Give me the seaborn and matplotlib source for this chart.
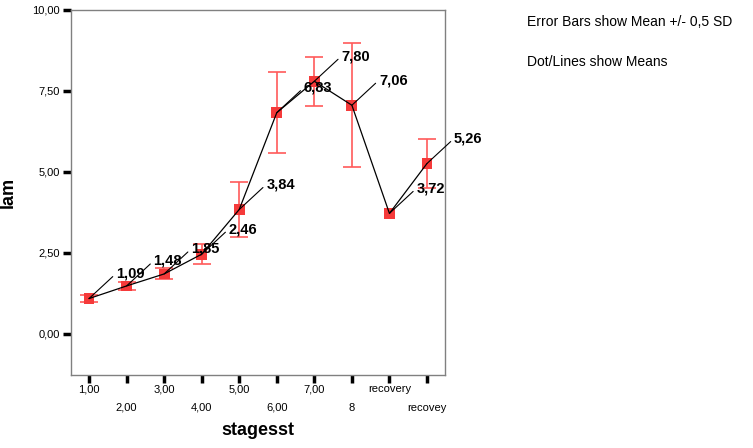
import matplotlib
matplotlib.use("Agg")
import matplotlib.pyplot as plt
import seaborn as sns
import pandas as pd
import numpy as np
from matplotlib.ticker import FuncFormatter, FixedLocator

categories = ["1,00", "2,00", "3,00", "4,00", "5,00", "6,00", "7,00", "8", "recovery", "recovey"]
means = [1.09, 1.48, 1.85, 2.46, 3.84, 6.83, 7.80, 7.06, 3.72, 5.26]
half_sd = [0.11, 0.12, 0.17, 0.30, 0.84, 1.26, 0.76, 1.92, np.nan, 0.76]
mean_labels = ["1,09", "1,48", "1,85", "2,46", "3,84", "6,83", "7,80", "7,06", "3,72", "5,26"]

sns.set_style("white")
plt.rcParams["font.family"] = ["Liberation Sans", "DejaVu Sans"]
plt.rcParams["text.color"] = "black"
plt.rcParams["axes.labelcolor"] = "black"
plt.rcParams["xtick.color"] = "black"
plt.rcParams["ytick.color"] = "black"

df = pd.DataFrame({"pos": np.arange(len(categories)), "mean": means, "err": half_sd})

fig = plt.figure(figsize=(7.53, 4.48), dpi=100)
ax = fig.add_axes([71 / 753, 1 - 375 / 448, (445 - 71) / 753, (375 - 10) / 448])

ok = df["err"].notna()
ax.errorbar(df.loc[ok, "pos"], df.loc[ok, "mean"], yerr=df.loc[ok, "err"], fmt="none",
            ecolor="#ff5a5a", elinewidth=1.2, capsize=6.5, capthick=1.2, zorder=2)
sns.scatterplot(data=df, x="pos", y="mean", marker="s", s=60, color="#f53a3a",
                edgecolor="none", ax=ax, zorder=3)
sns.lineplot(data=df, x="pos", y="mean", color="black", linewidth=0.9, ax=ax,
             zorder=4, estimator=None)

for i, row in df.iterrows():
    ax.annotate(mean_labels[i], xy=(row["pos"], row["mean"]), xytext=(27, 25),
                textcoords="offset pixels", fontsize=10.5, fontweight="bold",
                color="black", ha="left", va="center",
                arrowprops=dict(arrowstyle="-", color="black", lw=0.8,
                                shrinkA=0, shrinkB=0, relpos=(0, 0.5)),
                zorder=5)

ax.set_xlim(-0.48, 9.48)
ax.set_ylim(-1.27, 10.0)
ax.set_yticks([0, 2.5, 5.0, 7.5, 10.0])
ax.yaxis.set_major_formatter(FuncFormatter(lambda v, p: f"{v:.2f}".replace(".", ",")))

major_pos = list(range(0, 10, 2))
minor_pos = list(range(1, 10, 2))
ax.xaxis.set_major_locator(FixedLocator(major_pos))
ax.xaxis.set_minor_locator(FixedLocator(minor_pos))
ax.set_xticklabels([categories[i] for i in major_pos])
ax.set_xticklabels([categories[i] for i in minor_pos], minor=True)

ax.tick_params(axis="x", which="major", direction="out", length=6, width=2.5,
               labelsize=8, pad=0.5)
ax.tick_params(axis="x", which="minor", direction="out", length=6, width=2.5,
               labelsize=8, pad=14)
ax.tick_params(axis="y", which="major", direction="out", length=6, width=2.5,
               labelsize=8, pad=2)
ax.tick_params(left=True, bottom=True, which="both")

for sp in ax.spines.values():
    sp.set_color("#808080")
    sp.set_linewidth(1.0)

ax.set_xlabel("stagesst", fontsize=13, fontweight="bold")
ax.xaxis.set_label_coords(0.5, -(430 - 375) / 365)
ax.xaxis.label.set_va("center")
ax.set_ylabel("lam", fontsize=13, fontweight="bold")
ax.yaxis.set_label_coords((17 - 71) / 374, 0.5)

fig.text(527 / 753, 1 - 22 / 448, "Error Bars show Mean +/- 0,5 SD", fontsize=10,
         ha="left", va="center")
fig.text(527 / 753, 1 - 62 / 448, "Dot/Lines show Means", fontsize=10,
         ha="left", va="center")

fig.savefig("out.png", dpi=100)
